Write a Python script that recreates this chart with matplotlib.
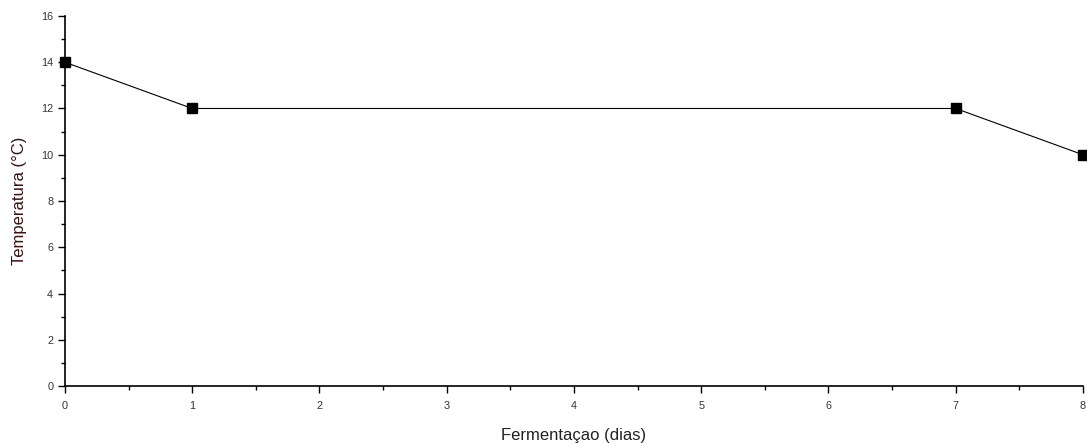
from matplotlib import pyplot as plt
from matplotlib.ticker import MultipleLocator
import numpy as np

plt.rcParams['font.family'] = ['Liberation Sans', 'DejaVu Sans']

dias = [0, 1, 7, 8]
temperatura = [14, 12, 12, 10]

fig = plt.figure(figsize=(10.87, 4.44), dpi=100)
ax = fig.add_axes([0.0598, 0.1306, 0.9365, 0.8334])
ax.plot(dias, temperatura, color="black", linewidth=0.8, marker="s",
        markersize=6.8, clip_on=False)

ax.set_xlim(0, 8)
ax.set_ylim(0, 16)
ax.xaxis.set_major_locator(MultipleLocator(1))
ax.xaxis.set_minor_locator(MultipleLocator(0.5))
ax.yaxis.set_major_locator(MultipleLocator(2))
ax.yaxis.set_minor_locator(MultipleLocator(1))
ax.tick_params(which="major", direction="out", length=5, width=1, labelsize=7.8, colors="black")
ax.tick_params(which="minor", direction="out", length=3, width=1)
ax.tick_params(axis="both", labelcolor="#333333")
ax.tick_params(axis="x", pad=6)

for s in ["top", "right"]:
    ax.spines[s].set_visible(False)
for s in ["left", "bottom"]:
    ax.spines[s].set_linewidth(1.2)

ax.set_xlabel("Fermentaçao (dias)", fontsize=12, color="#222222", labelpad=12)
ax.set_ylabel("Temperatura (°C)", fontsize=12, color="#3a1010", labelpad=10)

plt.savefig("out.png", dpi=100)
